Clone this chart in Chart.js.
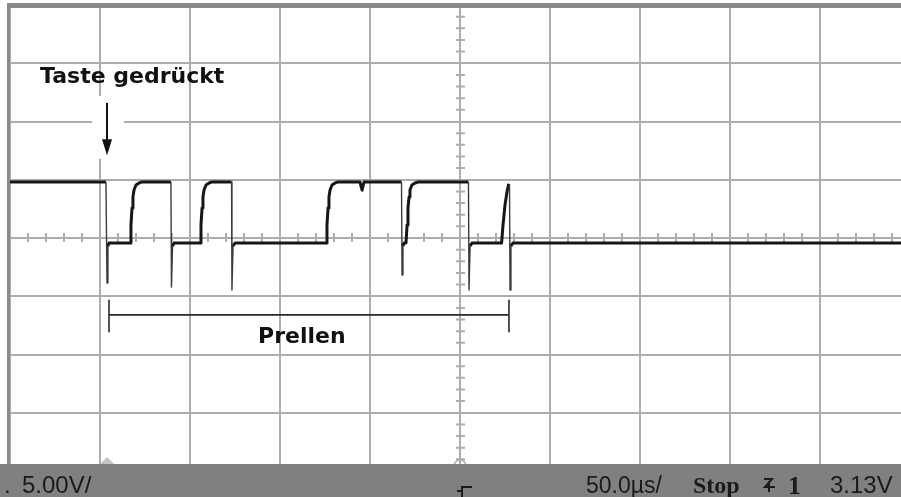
<!DOCTYPE html>
<html>
<head>
<meta charset="utf-8">
<script src="https://cdn.jsdelivr.net/npm/chart.js@4.4.1/dist/chart.umd.min.js"></script>
<style>
  html, body { margin: 0; padding: 0; background: #ffffff; overflow: hidden; }
  #scope { display: block; }
</style>
</head>
<body>
<canvas id="scope" width="901" height="497"></canvas>
<script>
// Scope capture: switch bounce, 50 us/div, 5 V/div
const timeUs = [
  0, 53.3, 53.9, 54.4, 55.0,
  66.7, 67.2, 67.8, 68.3, 68.9, 70.0, 71.7, 73.3,
  89.4, 89.7, 90.3, 91.1,
  105.6, 106.1, 106.7, 107.2, 107.8, 108.9, 110.6, 112.2,
  123.1, 123.3, 123.9, 125.0,
  175.6, 176.1, 176.7, 177.2, 177.8, 178.9, 180.6, 182.2,
  194.4, 195.6, 196.7,
  217.5, 217.8, 218.3, 218.9,
  220.0, 220.6, 221.1, 221.7, 222.2, 223.3, 225.0, 226.7,
  254.7, 255.0, 255.6, 256.7,
  273.1, 273.9, 275.0, 276.1, 276.9, 277.5,
  277.8, 278.3, 279.4, 495
];
const volts = [
  4.81, 4.81, -3.86, -0.69, -0.43,
  -0.43, 1.12, 2.58, 3.52, 4.12, 4.55, 4.72, 4.81,
  4.81, -4.21, -0.69, -0.43,
  -0.43, 1.12, 2.58, 3.52, 4.12, 4.55, 4.72, 4.81,
  4.81, -4.46, -0.69, -0.43,
  -0.43, 1.12, 2.58, 3.52, 4.12, 4.55, 4.72, 4.81,
  4.81, 4.1, 4.81,
  4.81, -3.18, -0.69, -0.43,
  -0.43, 1.12, 2.58, 3.52, 4.12, 4.55, 4.72, 4.81,
  4.81, -4.46, -0.69, -0.43,
  -0.43, 1.12, 2.83, 3.95, 4.55, 4.46,
  -4.46, -0.69, -0.43, -0.43
];

// Axis setup (divisions)
const xRange = [0, 495];     // us, screen cut at ~9.9 div
const xDiv = 50;
const yRange = [-20, 20];    // V
const yDiv = 5;

// Annotations (data units)
const pressUs = 53.9;
const bounceEndUs = 277.2;
const statusLabels = ['5.00V/', '50.0\u00b5s/', 'Stop', '1', '3.13V'];

const GRID = '#adadad';
const INK = '#161616';

// falling edges and spike recoveries are drawn thin, like the scope does
const isEdge = ctx => {
  const y0 = ctx.p0.parsed.y, y1 = ctx.p1.parsed.y;
  return (y0 - y1 > 3) || y0 < -2;
};

const scopeDecor = {
  id: 'scopeDecor',
  beforeDatasetsDraw(chart) {
    const { ctx, chartArea: a, scales: { x, y } } = chart;
    ctx.save();
    // minor ticks on the centre axes
    ctx.strokeStyle = GRID;
    ctx.lineWidth = 2;
    const cy = y.getPixelForValue(0);
    const cx = x.getPixelForValue(250);
    ctx.beginPath();
    for (let t = 0; t <= xRange[1]; t += xDiv / 5) {
      if (t % xDiv === 0) continue;
      const px = x.getPixelForValue(t);
      ctx.moveTo(px, cy - 5); ctx.lineTo(px, cy + 4);
    }
    for (let v = yRange[0]; v <= yRange[1]; v += 1) {
      if (v % yDiv === 0) continue;
      const py = y.getPixelForValue(v);
      ctx.moveTo(cx - 4, py); ctx.lineTo(cx + 5, py);
    }
    ctx.stroke();

    // white knock-out behind the arrow
    const ax = x.getPixelForValue(pressUs);
    ctx.fillStyle = '#ffffff';
    ctx.fillRect(ax - 15, y.getPixelForValue(12.2), 32, 63);

    // frame (top and left)
    ctx.fillStyle = '#8a8a8a';
    ctx.fillRect(7, 3, chart.width - 7, 5);
    ctx.fillRect(7, 3, 3, a.bottom);

    // markers at the bottom edge
    ctx.fillStyle = '#c4c4c4';
    ctx.beginPath();
    ctx.moveTo(ax - 7, 464); ctx.lineTo(ax, 457); ctx.lineTo(ax + 7, 464);
    ctx.closePath(); ctx.fill();
    ctx.strokeStyle = '#b0b0b0';
    ctx.lineWidth = 1.5;
    ctx.beginPath();
    ctx.arc(cx, 466, 6, Math.PI, 2 * Math.PI);
    ctx.stroke();
    ctx.restore();
  },
  afterDatasetsDraw(chart) {
    const { ctx, scales: { x, y } } = chart;
    ctx.save();
    ctx.fillStyle = '#111111';
    ctx.strokeStyle = '#111111';
    ctx.font = 'bold 22px "DejaVu Sans"';
    ctx.textBaseline = 'alphabetic';
    ctx.fillText('Taste gedr\u00fcckt', x.getPixelForValue(16.7), y.getPixelForValue(13.3));

    // arrow
    const ax = x.getPixelForValue(pressUs);
    const top = y.getPixelForValue(11.6);
    const tip = y.getPixelForValue(7.1);
    ctx.lineWidth = 2;
    ctx.beginPath();
    ctx.moveTo(ax, top); ctx.lineTo(ax, tip - 12);
    ctx.stroke();
    ctx.beginPath();
    ctx.moveTo(ax - 5, tip - 16); ctx.lineTo(ax + 5, tip - 16); ctx.lineTo(ax, tip);
    ctx.closePath(); ctx.fill();

    // bounce bracket
    const bx0 = x.getPixelForValue(55);
    const bx1 = x.getPixelForValue(bounceEndUs);
    const by = y.getPixelForValue(-6.6);
    ctx.strokeStyle = '#2a2a2a';
    ctx.lineWidth = 1.6;
    ctx.beginPath();
    ctx.moveTo(bx0, by); ctx.lineTo(bx1, by);
    ctx.moveTo(bx0, y.getPixelForValue(-5.3)); ctx.lineTo(bx0, y.getPixelForValue(-8.1));
    ctx.moveTo(bx1, y.getPixelForValue(-5.3)); ctx.lineTo(bx1, y.getPixelForValue(-8.1));
    ctx.stroke();
    ctx.fillText('Prellen', x.getPixelForValue(137.8), y.getPixelForValue(-9.0));
    ctx.restore();
  },
  afterDraw(chart) {
    const { ctx } = chart;
    ctx.save();
    // status bar
    ctx.fillStyle = '#808080';
    ctx.fillRect(0, 464, chart.width, chart.height - 464);
    ctx.fillStyle = '#1a1a1a';
    ctx.textBaseline = 'alphabetic';
    ctx.font = '24px "Liberation Sans"';
    ctx.fillText('.', 4, 493);
    ctx.fillText(statusLabels[0], 22, 493);
    ctx.fillText(statusLabels[4], 830, 493);
    ctx.font = '23px "Liberation Sans"';
    ctx.fillText(statusLabels[1], 586, 493);
    ctx.font = 'bold 24px "Liberation Serif"';
    ctx.fillText(statusLabels[2], 693, 493);
    ctx.font = 'bold 26px "Liberation Serif"';
    ctx.fillText(statusLabels[3], 788, 494);
    // trigger slope glyph
    ctx.strokeStyle = '#1a1a1a';
    ctx.lineWidth = 2;
    ctx.beginPath();
    ctx.moveTo(764, 479); ctx.lineTo(772, 479); ctx.lineTo(765, 487); ctx.lineTo(775, 487);
    ctx.moveTo(769, 483); ctx.lineTo(769, 492);
    ctx.stroke();
    // trigger position glyph
    ctx.beginPath();
    ctx.moveTo(472, 487); ctx.lineTo(462, 487); ctx.lineTo(462, 497);
    ctx.moveTo(457, 491); ctx.lineTo(462, 491);
    ctx.stroke();
    ctx.restore();
  }
};

new Chart(document.getElementById('scope'), {
  type: 'line',
  data: {
    datasets: [{
      data: timeUs.map((t, i) => ({ x: t, y: volts[i] })),
      borderColor: INK,
      borderWidth: 3,
      borderJoinStyle: 'round',
      pointRadius: 0,
      tension: 0,
      fill: false,
      segment: {
        borderWidth: ctx => isEdge(ctx) ? 1.4 : 3,
        borderColor: ctx => isEdge(ctx) ? '#3a3a3a' : INK
      }
    }]
  },
  options: {
    responsive: false,
    animation: false,
    devicePixelRatio: 1,
    layout: { padding: { left: 10, top: 5, right: 0, bottom: 26 } },
    plugins: { legend: { display: false }, tooltip: { enabled: false } },
    scales: {
      x: {
        type: 'linear',
        min: xRange[0], max: xRange[1],
        ticks: { display: false, stepSize: xDiv, includeBounds: false },
        grid: { color: GRID, lineWidth: 2, drawTicks: false },
        border: { display: false }
      },
      y: {
        type: 'linear',
        min: yRange[0], max: yRange[1],
        ticks: { display: false, stepSize: yDiv },
        grid: { color: GRID, lineWidth: 2, drawTicks: false },
        border: { display: false }
      }
    }
  },
  plugins: [scopeDecor]
});
</script>
</body>
</html>
